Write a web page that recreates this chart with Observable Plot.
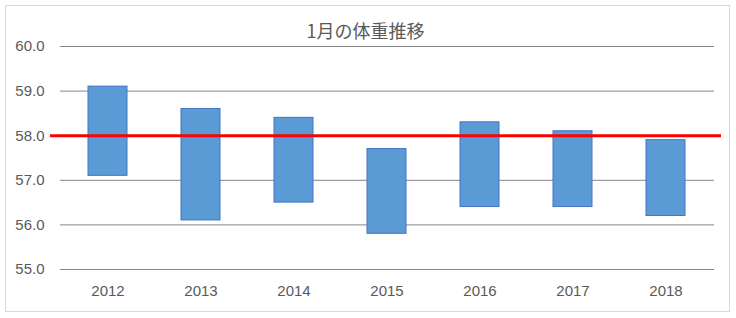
<!DOCTYPE html>
<html>
<head>
<meta charset="utf-8">
<script src="https://cdn.jsdelivr.net/npm/d3@7"></script>
<script src="https://cdn.jsdelivr.net/npm/@observablehq/plot@0.6"></script>
<style>
  html, body { margin: 0; padding: 0; background: #fff; }
  #wrap { position: relative; width: 736px; height: 318px; }
  #border { position: absolute; left: 5px; top: 5px; width: 723px; height: 305px; border: 1px solid #d9d9d9; pointer-events: none; }
</style>
</head>
<body>
<div id="wrap"><div id="border"></div></div>
<script>
const title = "1月の体重推移";
const years = ["2012", "2013", "2014", "2015", "2016", "2017", "2018"];
const lows  = [57.1, 56.1, 56.5, 55.8, 56.4, 56.4, 56.2];
const highs = [59.1, 58.6, 58.4, 57.7, 58.3, 58.1, 57.9];
const target = 58.0;
const yTicks = [55, 56, 57, 58, 59, 60];

const data = years.map((y, i) => ({year: y, low: lows[i], high: highs[i]}));

const chart = Plot.plot({
  width: 736,
  height: 318,
  marginLeft: 60,
  marginRight: 22,
  marginTop: 46,
  marginBottom: 49,
  style: {fontFamily: "'Liberation Sans', Arial, sans-serif", fontSize: "15px", color: "#595959", background: "transparent"},
  x: {domain: years, paddingInner: 0.58, paddingOuter: 0.29, label: null},
  y: {domain: [55, 60], label: null},
  marks: [
    Plot.gridY(yTicks, {stroke: "#868686", strokeOpacity: 1}),
    Plot.axisY(yTicks, {tickSize: 0, tickPadding: 16, tickFormat: d => d.toFixed(1), fill: "#595959", fontSize: 15, label: null}),
    Plot.axisX({tickSize: 0, tickPadding: 16, fill: "#595959", fontSize: 15, label: null}),
    Plot.barY(data, {x: "year", y1: "low", y2: "high", fill: "#5B9BD5", stroke: "#4472C4", strokeWidth: 1}),
    Plot.ruleY([target], {stroke: "#FF0000", strokeWidth: 3, insetLeft: -10, insetRight: -7}),
    Plot.text([title], {frameAnchor: "top", dx: -22, dy: -9, lineAnchor: "bottom", fontSize: 18, fill: "#595959", fontFamily: "'Noto Sans CJK JP', sans-serif"})
  ]
});
document.getElementById("wrap").appendChild(chart);
chart.style.position = "absolute";
chart.style.left = "0";
chart.style.top = "0";
</script>
</body>
</html>
